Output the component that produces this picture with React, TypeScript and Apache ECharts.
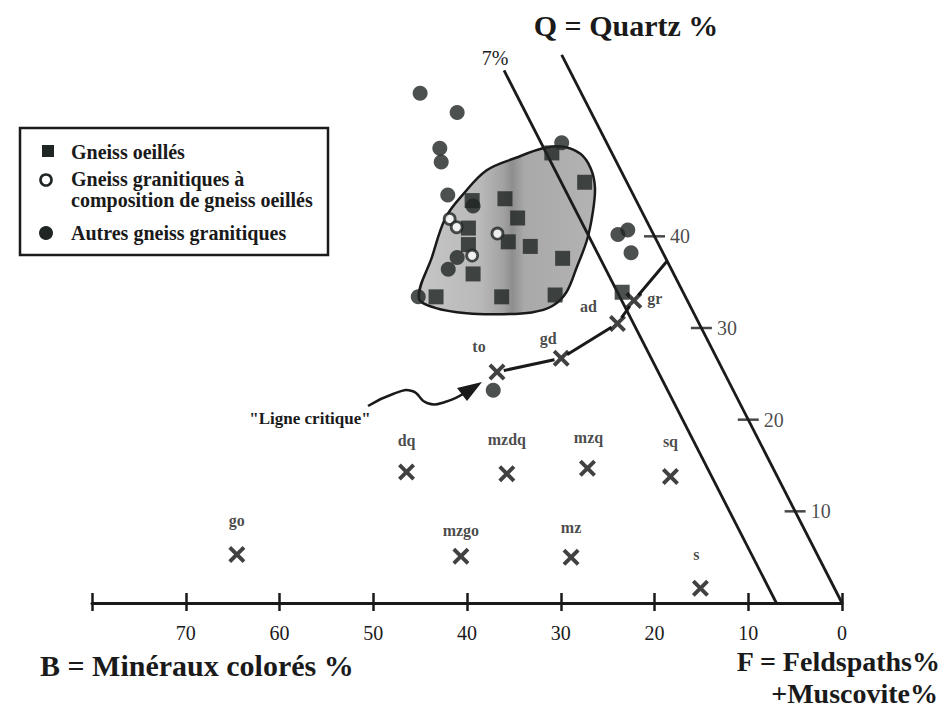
import React, { useEffect, useRef } from 'react';
import * as echarts from 'echarts';

// Oblique Q-B-F diagram: horizontal position = B + SHEAR * Q, vertical = Q
const SHEAR = 0.5;

// Bottom axis (B = minéraux colorés %)
const bTicks = [0, 10, 20, 30, 40, 50, 60, 70, 80];
// Q axis ticks on the B = 0 line
const qTicks = [10, 20, 30, 40];

// Gneiss oeillés  [B %, Q %]
const gneissOeilles: [number, number][] = [
  [6.4, 49.1], [4.5, 45.9], [17.5, 43.9], [13.9, 44.1], [13.6, 42.0],
  [19.4, 40.9], [20.3, 39.1], [15.9, 39.4], [13.8, 38.9], [11.0, 37.6],
  [21.4, 35.9], [26.6, 33.4], [19.6, 33.4], [13.8, 33.6], [6.5, 33.9],
];
// Gneiss granitiques à composition de gneiss oeillés
const gneissGranComp: [number, number][] = [
  [20.9, 41.9], [20.6, 41.0], [16.6, 40.3], [20.5, 37.9],
];
// Autres gneiss granitiques
const autresGneiss: [number, number][] = [
  [17.2, 55.6], [14.3, 53.5], [18.1, 49.6], [18.7, 48.1], [19.8, 44.5],
  [17.7, 43.3], [22.2, 37.7], [23.8, 36.4], [28.5, 33.4], [4.8, 50.2],
  [3.8, 40.2], [2.5, 40.7], [3.4, 38.2], [25.6, 23.2],
];

// Reference rock types (X markers)
const rockNames = ['gr', 'ad', 'gd', 'to', 'dq', 'mzdq', 'mzq', 'sq', 'go', 'mzgo', 'mz', 's'];
const rockB = [5.7, 8.7, 16.6, 24.2, 39.3, 28.7, 19.8, 11.4, 61.9, 38.1, 26.4, 14.3];
const rockQ = [33.0, 30.5, 26.7, 25.2, 14.3, 14.1, 14.7, 13.8, 5.3, 5.1, 5.0, 1.6];

// "Ligne critique": to -> gd -> ad -> gr -> B = 0 line
const critiqueRocks = ['to', 'gd', 'ad', 'gr'];
const critiqueEnd: [number, number] = [0, 37.3];

// Boundary lines of constant B
const lineB0: [number, number][] = [[0, 0], [0, 59.8]];
const lineB7: [number, number][] = [[7, 0], [7, 58.1]];

// Outline of the shaded field [B %, Q %]
const blobB = [28.5, 24.9, 21.3, 18.1, 14.3, 10.4, 7.1, 5.0, 3.4, 3.1, 3.7, 5.35, 7.4, 10.0, 12.45, 14.7, 17.25, 20.75, 24.2, 27.3];
const blobQ = [33.3, 37.7, 42.0, 44.6, 47.2, 48.6, 49.6, 49.8, 49.0, 47.4, 45.3, 42.5, 39.6, 36.6, 33.9, 32.4, 31.7, 31.5, 31.6, 32.2];

// label offsets (style) for the rock names, px relative to the marker
const rockLabelOffsets: Record<string, [number, number]> = {
  gr: [21, -2], ad: [-29, -17], gd: [-13, -20], to: [-18, -26],
  dq: [0, -31], mzdq: [0, -34], mzq: [1, -31], sq: [0, -35],
  go: [0, -34], mzgo: [0, -26], mz: [0, -30], s: [-4, -34],
};

const toXY = (p: [number, number]) => [p[0] + SHEAR * p[1], p[1]];

const INK = '#1f2623';
const SERIF = 'Liberation Serif';
const X_PATH = 'path://M0,2.6L2.6,0L8,5.4L13.4,0L16,2.6L10.6,8L16,13.4L13.4,16L8,10.6L2.6,16L0,13.4L5.4,8Z';

function txt(text: string, x: number, y: number, size: number, bold: boolean, align = 'left') {
  return {
    type: 'text',
    x, y,
    silent: true,
    style: {
      text,
      fontFamily: SERIF,
      fontSize: size,
      fontWeight: bold ? 'bold' : 'normal',
      fill: '#1a1a1a',
      align, verticalAlign: 'middle',
      textAlign: align, textVerticalAlign: 'middle',
    },
  };
}

export default function App() {
  const ref = useRef<HTMLDivElement>(null);
  useEffect(() => {
    const chart = echarts.init(ref.current!, null, { renderer: 'svg' });

    const rockIndex = (n: string) => rockNames.indexOf(n);
    const critData: any[] = critiqueRocks.map((n) => {
      const i = rockIndex(n);
      return { value: toXY([rockB[i], rockQ[i]]), symbolSize: 14 };
    });
    critData.push({ value: toXY(critiqueEnd), symbolSize: 0 });

    const blobFill = new echarts.graphic.LinearGradient(0, 0, 1, 0, [
      { offset: 0, color: '#c6c6c6' },
      { offset: 0.35, color: '#b9b9b9' },
      { offset: 0.48, color: '#a2a2a2' },
      { offset: 0.53, color: '#8e8e8e' },
      { offset: 0.6, color: '#a9a9a9' },
      { offset: 1, color: '#b3b3b3' },
    ]);

    const option: any = {
      animation: false,
      textStyle: { fontFamily: SERIF },
      grid: { left: 92, right: 109, top: 53, bottom: 105, containLabel: false },
      xAxis: [
        {
          type: 'value', min: 0, max: 80, interval: 10, inverse: true, position: 'bottom',
          axisLine: { lineStyle: { color: '#1a1a1a', width: 3 } },
          axisTick: { show: true, length: 8, lineStyle: { color: '#1a1a1a', width: 2.5 } },
          axisLabel: {
            margin: 20, fontSize: 20, color: '#1a1a1a', fontFamily: SERIF,
            formatter: (v: number) => (bTicks.indexOf(v) >= 0 && v !== 80 ? String(v) : ''),
          },
          splitLine: { show: false },
        },
        {
          type: 'value', min: 0, max: 80, interval: 10, inverse: true, position: 'bottom',
          axisLine: { show: false },
          axisTick: { show: true, inside: true, length: 10, lineStyle: { color: '#1a1a1a', width: 2.5 } },
          axisLabel: { show: false },
          splitLine: { show: false },
        },
      ],
      yAxis: { type: 'value', min: 0, max: 60, show: false, splitLine: { show: false } },
      series: [
        {
          type: 'custom', coordinateSystem: 'cartesian2d', silent: true, z: 1,
          data: [[0, 0]], clip: false,
          renderItem: (_p: any, api: any) => {
            const pts = blobB.map((b, i) => api.coord(toXY([b, blobQ[i]])));
            return {
              type: 'polygon',
              shape: { points: pts, smooth: 0.35 },
              style: { fill: blobFill, stroke: '#1a1a1a', lineWidth: 2.5 },
            };
          },
        },
        {
          type: 'line', silent: true, z: 2, symbol: 'none',
          data: lineB0.map(toXY),
          lineStyle: { color: '#1a1a1a', width: 2.8 },
        },
        {
          type: 'line', silent: true, z: 2, symbol: 'none',
          data: lineB7.map(toXY),
          lineStyle: { color: '#1a1a1a', width: 2.8 },
        },
        {
          type: 'line', silent: true, z: 3, symbol: 'circle', showSymbol: true,
          data: critData,
          lineStyle: { color: '#1a1a1a', width: 3 },
          itemStyle: { color: '#ffffff', borderWidth: 0 },
        },
        {
          type: 'scatter', silent: true, z: 4, symbol: 'rect', symbolSize: [21, 2.5],
          data: qTicks.map((q) => toXY([0, q])),
          itemStyle: { color: '#1a1a1a' },
          label: {
            show: true, position: 'right', distance: 5, fontSize: 20, color: '#1a1a1a',
            fontFamily: SERIF, formatter: (p: any) => String(p.value[1]),
          },
        },
        {
          name: 'Autres gneiss granitiques', type: 'scatter', silent: true, z: 5,
          symbol: 'circle', symbolSize: 15,
          data: autresGneiss.map(toXY),
          itemStyle: { color: INK },
        },
        {
          name: 'Gneiss oeillés', type: 'scatter', silent: true, z: 5,
          symbol: 'rect', symbolSize: 15,
          data: gneissOeilles.map(toXY),
          itemStyle: { color: INK },
        },
        {
          name: 'Gneiss granitiques à composition de gneiss oeillés', type: 'scatter', silent: true, z: 6,
          symbol: 'circle', symbolSize: 11,
          data: gneissGranComp.map(toXY),
          itemStyle: { color: '#ffffff', borderColor: INK, borderWidth: 2.8 },
        },
        {
          type: 'scatter', silent: true, z: 7, symbol: X_PATH, symbolSize: 17,
          data: rockNames.map((n, i) => ({
            name: n,
            value: toXY([rockB[i], rockQ[i]]),
            label: { offset: rockLabelOffsets[n] },
          })),
          itemStyle: { color: '#111' },
          label: {
            show: true, position: 'inside', formatter: '{b}',
            fontSize: 16, fontWeight: 'bold', color: '#1a1a1a', fontFamily: SERIF,
          },
        },
      ],
      graphic: [
        txt('Q = Quartz %', 626, 25, 30, true, 'center'),
        txt('7%', 495, 58, 20, false, 'center'),
        txt('B = Minéraux colorés %', 40, 665, 30, true, 'left'),
        txt('F = Feldspaths%', 940, 661, 28, true, 'right'),
        txt('+Muscovite%', 938, 693, 28, true, 'right'),
        txt('"Ligne critique"', 310, 418, 17, true, 'center'),
        // arrow to the critical line
        {
          type: 'polyline', silent: true,
          shape: { points: [[368, 406], [393, 394], [412, 391], [427, 403], [445, 402], [466, 392]], smooth: 0.5 },
          style: { stroke: '#1a1a1a', lineWidth: 2.5, fill: 'none' },
        },
        {
          type: 'polygon', silent: true,
          shape: { points: [[482, 382], [457, 388], [467, 401]] },
          style: { fill: '#1a1a1a' },
        },
        // legend box
        {
          type: 'rect', silent: true,
          shape: { x: 20, y: 128, width: 308, height: 127 },
          style: { fill: '#ffffff', stroke: '#1a1a1a', lineWidth: 2.5 },
        },
        {
          type: 'rect', silent: true,
          shape: { x: 42, y: 145, width: 12, height: 12 },
          style: { fill: INK },
        },
        txt('Gneiss oeillés', 71, 152, 20, true),
        {
          type: 'circle', silent: true,
          shape: { cx: 46, cy: 180, r: 5.5 },
          style: { fill: '#ffffff', stroke: INK, lineWidth: 2.6 },
        },
        txt('Gneiss granitiques à', 71, 179, 20, true),
        txt('composition de gneiss oeillés', 71, 200, 20, true),
        {
          type: 'circle', silent: true,
          shape: { cx: 46, cy: 233, r: 7 },
          style: { fill: INK },
        },
        txt('Autres gneiss granitiques', 71, 233, 20, true),
      ],
    };

    chart.setOption(option);
    return () => chart.dispose();
  }, []);

  return (
    <div
      ref={ref}
      style={{ position: 'absolute', left: 0, top: 0, width: 951, height: 708, background: '#ffffff' }}
    />
  );
}
